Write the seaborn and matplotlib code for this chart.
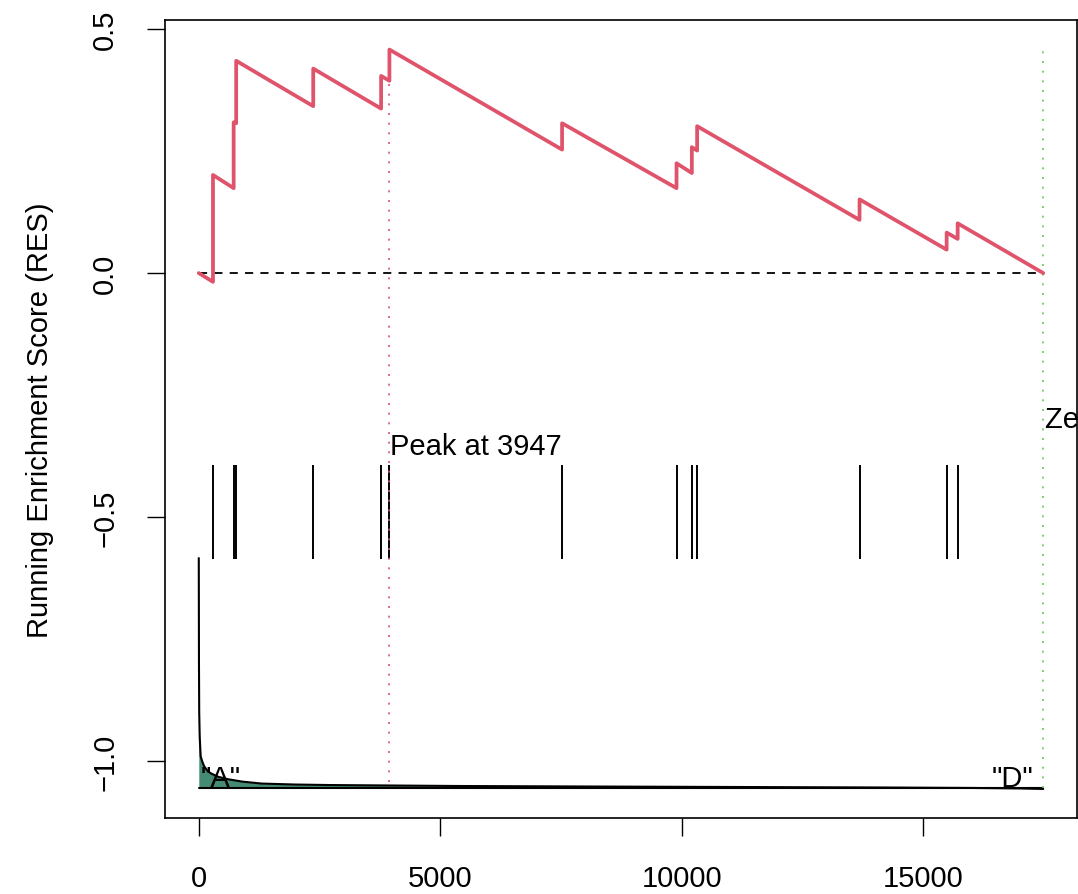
import numpy as np
import pandas as pd
import matplotlib
matplotlib.use('Agg')
import matplotlib.pyplot as plt
import seaborn as sns

# gene list size and leading edge peak
n_genes = 17480
peak_rank = 3947

# positions of the gene set members in the ranked list
hit_ranks = [295, 723, 775, 2370, 3775, 3947, 7521, 9890, 10207, 10316, 13678, 15481, 15709]
# running enrichment score just before and just after each hit
res_before = [-0.018, 0.174, 0.307, 0.342, 0.337, 0.394, 0.253, 0.174, 0.205, 0.251, 0.109, 0.048, 0.070]
res_after = [0.201, 0.309, 0.435, 0.419, 0.404, 0.458, 0.307, 0.225, 0.258, 0.301, 0.151, 0.083, 0.102]

# ranked metric (rescaled into the bottom of the panel)
metric_rank = [1, 5, 10, 20, 40, 70, 110, 180, 250, 400, 600, 900, 1300, 2000,
               2700, 4000, 5400, 8000, 11000, 14000, 16000, 17000, 17480]
metric_val = [-0.584, -0.80, -0.90, -0.95, -0.99, -1.00, -1.010, -1.020, -1.025,
              -1.032, -1.037, -1.042, -1.046, -1.048, -1.049, -1.050, -1.051,
              -1.052, -1.053, -1.054, -1.055, -1.056, -1.057]
metric_base = -1.056

hit_low, hit_high = -0.586, -0.393

# build the running score path
path_x = [1]
path_y = [0.0]
for r, b, a in zip(hit_ranks, res_before, res_after):
    path_x += [r, r]
    path_y += [b, a]
path_x.append(n_genes)
path_y.append(0.0)
res_df = pd.DataFrame({'rank': path_x, 'res': path_y})
metric_df = pd.DataFrame({'rank': metric_rank, 'metric': metric_val})

sns.set_style('white')
plt.rcParams['font.family'] = ['Liberation Sans', 'DejaVu Sans']
plt.rcParams['text.color'] = 'black'

fig = plt.figure(figsize=(10.78, 8.95), dpi=100)
ax = fig.add_axes([165 / 1078, 1 - 819 / 895, 912 / 1078, 798 / 895])

red = '#DF536B'
green = '#61D04F'

# metric area at the bottom
ax.fill_between(metric_df['rank'], metric_base, metric_df['metric'], color='#458B74', lw=0)
sns.lineplot(data=metric_df, x='rank', y='metric', ax=ax, color='black', lw=1.5,
             sort=False, estimator=None)
ax.plot([1, n_genes], [metric_base, metric_base], color='black', lw=1.5)

# hit marks
ax.vlines(hit_ranks, hit_low, hit_high, color='black', lw=1.4)

# zero line
ax.plot([1, n_genes], [0, 0], color='black', lw=1.3, dashes=(4.5, 4))

# peak and zero crossing markers
ax.plot([peak_rank, peak_rank], [-1.043, 0.457], color=red, lw=1.2, dashes=(1.2, 4.6))
ax.plot([n_genes, n_genes], [metric_base, 0.458], color=green, lw=1.2, dashes=(1.2, 4.6))

# running enrichment score
sns.lineplot(data=res_df, x='rank', y='res', ax=ax, color=red, lw=2.7,
             sort=False, estimator=None)

ax.text(peak_rank + 20, -0.355, 'Peak at %d' % peak_rank, fontsize=21, va='center', ha='left')
ax.text(n_genes + 40, -0.30, 'Zero crossing at %d' % n_genes, fontsize=21, va='center',
        ha='left', clip_on=False)
ax.text(40, -1.035, '"A"', fontsize=21, va='center', ha='left')
ax.text(17273, -1.035, '"D"', fontsize=21, va='center', ha='right')

xspan = n_genes - 1
ax.set_xlim(1 - 0.04 * xspan, n_genes + 0.04 * xspan)
ymin, ymax = metric_base, 0.458
yspan = ymax - ymin
ax.set_ylim(ymin - 0.04 * yspan, ymax + 0.04 * yspan)

ax.set_xticks([0, 5000, 10000, 15000])
ax.set_xticklabels(['0', '5000', '10000', '15000'])
ax.set_yticks([0.5, 0.0, -0.5, -1.0])
ax.set_yticklabels(['0.5', '0.0', '\u22120.5', '\u22121.0'], rotation=90, va='center')
ax.tick_params(axis='both', length=13, width=1, pad=20, labelsize=21, colors='black',
               labelcolor='black', bottom=True, left=True)
ax.set_xlabel('')
ax.set_ylabel('')
for s in ax.spines.values():
    s.set_color('black')
    s.set_linewidth(1.2)

fig.text(40 / 1078, 0.5 * (1 - 21 / 895 + 1 - 819 / 895), 'Running Enrichment Score (RES)',
         rotation=90, va='center', ha='center', fontsize=21, color='black')

fig.savefig('out.png', dpi=100)
